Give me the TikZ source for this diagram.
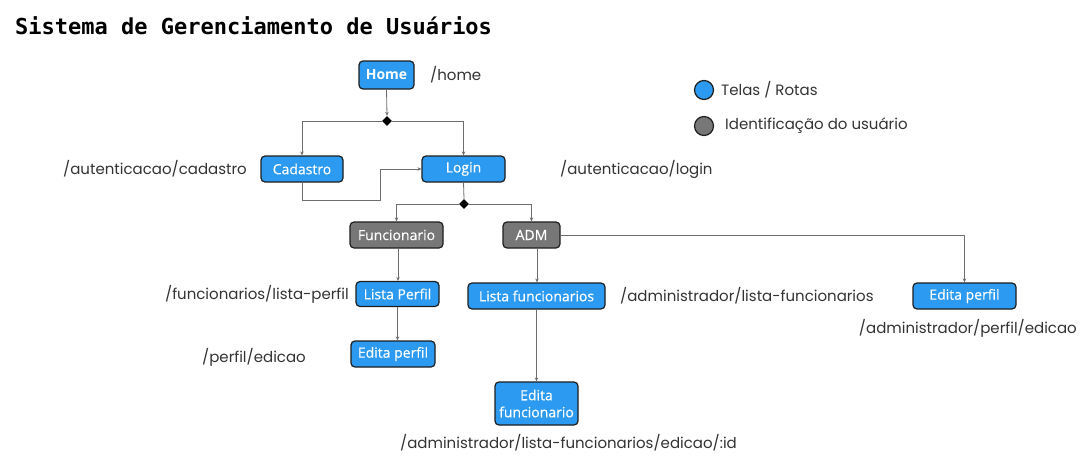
\documentclass[tikz,border=0pt]{standalone}
\usepackage{fontspec}
\setmainfont{Open Sans}
\newfontfamily\nodefont{Open Sans}[FakeBold=0.35]
\newfontfamily\labfont{Poppins}
\newfontfamily\titlefont{DejaVu Sans Mono}
\usetikzlibrary{arrows.meta,shapes.geometric}
\definecolor{scrblue}{HTML}{2C9AF0}
\definecolor{idgray}{HTML}{777777}
\definecolor{bordc}{HTML}{1E1E1E}
\definecolor{linec}{HTML}{6E6E6E}
\definecolor{labc}{HTML}{333333}
\tikzset{
  x=1pt,y=-1pt,
  box/.style={draw=bordc,line width=1.2pt,rounded corners=4pt,text=white,font=\nodefont\fontsize{14}{15}\selectfont,inner sep=0pt,align=center},
  screen/.style={box,fill=scrblue},
  ident/.style={box,fill=idgray},
  lab/.style={text=labc,font=\labfont\fontsize{15}{17}\selectfont,inner sep=0pt},
  conn/.style={draw=linec,line width=0.8pt,-{Stealth[length=4pt,width=3.5pt]}},
  plain/.style={draw=linec,line width=0.8pt},
  dia/.style={diamond,fill=black,inner sep=0pt,minimum width=10pt,minimum height=10pt},
}
\begin{document}
\begin{tikzpicture}
\useasboundingbox[fill=white] (0,0) rectangle (1087,469);
\node[anchor=west,font=\titlefont\bfseries\fontsize{22}{24}\selectfont,inner sep=0pt] (title) at (15,26) {Sistema de Gerenciamento de Usuários};

% nodes
\node[screen,minimum width=55pt,minimum height=28pt,font=\bfseries\fontsize{14}{15}\selectfont] (home) at (386.5,75) {Home};
\node[screen,minimum width=82pt,minimum height=26pt] (cad) at (302,169) {Cadastro};
\node[screen,minimum width=83pt,minimum height=26pt] (login) at (463.5,169) {Login};
\node[dia] (d1) at (387,121) {};
\node[dia] (d2) at (464,204) {};
\node[ident,minimum width=93pt,minimum height=26pt] (func) at (396.5,235) {Funcionario};
\node[ident,minimum width=57pt,minimum height=26pt] (adm) at (531.5,235) {ADM};
\node[screen,minimum width=83pt,minimum height=25pt] (lp) at (397.5,294) {Lista Perfil};
\node[screen,minimum width=137pt,minimum height=26pt] (lf) at (536.5,296) {Lista funcionarios};
\node[screen,minimum width=84pt,minimum height=26pt] (ep) at (393,354) {Edita perfil};
\node[screen,minimum width=83pt,minimum height=43pt,font=\nodefont\fontsize{14}{17}\selectfont] (ef) at (536.5,403.5) {Edita\\funcionario};
\node[screen,minimum width=103pt,minimum height=26pt] (epr) at (964.5,296) {Edita perfil};

% labels
\node[lab,anchor=west] (lhome) at (430,75) {/home};
\node[lab,anchor=east] (lcad) at (247,169) {/autenticacao/cadastro};
\node[lab,anchor=west] (llogin) at (560,169) {/autenticacao/login};
\node[lab,anchor=east] (llp) at (349,294) {/funcionarios/lista-perfil};
\node[lab,anchor=east] (lep) at (306,357) {/perfil/edicao};
\node[lab,anchor=west] (llf) at (620,296) {/administrador/lista-funcionarios};
\node[lab,anchor=east] (lepr) at (1077,328) {/administrador/perfil/edicao};
\node[lab] (lef) at (568.5,443) {/administrador/lista-funcionarios/edicao/:id};

% legend
\node[circle,draw=bordc,line width=1.2pt,fill=scrblue,minimum size=19pt,inner sep=0pt] (lg1) at (704,90) {};
\node[circle,draw=bordc,line width=1.2pt,fill=idgray,minimum size=19pt,inner sep=0pt] (lg2) at (704,126) {};
\node[lab,anchor=west] (lt1) at (721,90) {Telas / Rotas};
\node[lab,anchor=west] (lt2) at (725,126) {Identificação do usuário};

% connectors
\draw[conn] (home.south) -- (d1.north);
\draw[conn] (d1.west) -| (cad.north);
\draw[conn] (d1.east) -| (login.north);
\coordinate (c1) at (302,200);
\coordinate (c2) at (380,200);
\coordinate (c3) at (380,169);
\draw[conn] (cad.south) -- (c1) -- (c2) -- (c3) -- (login.west);
\draw[plain] (login.south) -- (d2.north);
\draw[conn] (d2.west) -| (func.north);
\draw[conn] (d2.east) -| (adm.north);
\coordinate (f1) at (398,248);
\draw[conn] (f1) -- (f1 |- lp.north);
\draw[conn] (lp.south) -- (lp.south |- ep.north);
\coordinate (a1) at (537,248);
\draw[conn] (a1) -- (a1 |- lf.north);
\draw[conn] (adm.east) -| (epr.north);
\draw[conn] (lf.south) -- (ef.north);
\end{tikzpicture}
\end{document}
